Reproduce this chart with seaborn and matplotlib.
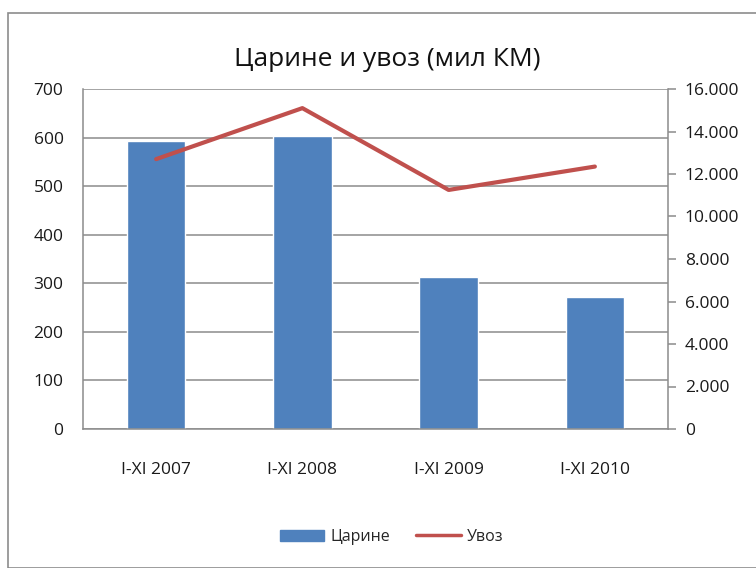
import matplotlib
matplotlib.use("Agg")
import matplotlib.pyplot as plt
from matplotlib.patches import Rectangle
from matplotlib.lines import Line2D
from matplotlib.ticker import FuncFormatter
import seaborn as sns
import pandas as pd

periods = ["I-XI 2007", "I-XI 2008", "I-XI 2009", "I-XI 2010"]
carine = [593, 603, 313, 271]          # left axis
uvoz = [12700, 15100, 11250, 12350]    # right axis

df = pd.DataFrame({"period": periods, "carine": carine, "uvoz": uvoz})

sns.set_theme(style="white")
plt.rcParams["font.family"] = ["Open Sans", "DejaVu Sans"]

bar_color = "#4F81BD"
line_color = "#C0504D"
grid_color = "#8C8C8C"

fig = plt.figure(figsize=(7.56, 5.68), dpi=100)
ax = fig.add_axes([83 / 756, 1 - 429 / 568, 585 / 756, 340 / 568])

sns.barplot(data=df, x="period", y="carine", color=bar_color, width=0.4,
            saturation=1, ax=ax, zorder=2)
ax.set_xlim(-0.5, 3.5)
ax.set_ylim(0, 700)
ax.set_yticks(range(0, 701, 100))
ax.yaxis.grid(True, color=grid_color, linewidth=1.1, zorder=0)
ax.set_axisbelow(True)
ax.set_xlabel("")
ax.set_ylabel("")
ax.tick_params(axis="both", length=0, labelsize=12.5, colors="#1a1a1a")
ax.tick_params(axis="x", pad=24)
ax.tick_params(axis="y", pad=14)
for s in ["top", "right"]:
    ax.spines[s].set_visible(False)
for s in ["left", "bottom"]:
    ax.spines[s].set_color(grid_color)
    ax.spines[s].set_linewidth(1.1)

ax2 = ax.twinx()
sns.lineplot(x=list(range(len(periods))), y=uvoz, color=line_color,
             linewidth=3.0, ax=ax2, zorder=3)
ax2.set_ylim(0, 16000)
ax2.set_yticks(range(0, 16001, 2000))
ax2.yaxis.set_major_formatter(FuncFormatter(lambda v, p: f"{int(v):,}".replace(",", ".")))
ax2.tick_params(axis="y", length=6, width=1.1, color=grid_color, labelsize=12.5,
                colors="#1a1a1a", pad=6)
ax2.tick_params(axis="y", color=grid_color)
for s in ["top", "left", "bottom"]:
    ax2.spines[s].set_visible(False)
ax2.spines["right"].set_color(grid_color)
ax2.spines["right"].set_linewidth(1.1)
ax2.set_ylabel("")

fig.text(0.512, 1 - 60 / 568, "Царине и увоз (мил КМ)", ha="center", va="center",
         fontsize=19, fontweight="medium", color="#111111")

handles = [Rectangle((0, 0), 1, 1, color=bar_color),
           Line2D([0], [0], color=line_color, linewidth=2.5)]
fig.legend(handles, ["Царине", "Увоз"], loc="center", ncol=2,
           bbox_to_anchor=(0.518, 1 - 537 / 568), frameon=False, fontsize=11.5,
           handlelength=2.8, handletextpad=0.4, columnspacing=1.6)

fig.patches.append(Rectangle((8 / 756, 0), 760 / 756, 1 - 13 / 568,
                             transform=fig.transFigure, fill=False,
                             edgecolor="#8C8C8C", linewidth=1.2))

fig.savefig("out.png", dpi=100)
